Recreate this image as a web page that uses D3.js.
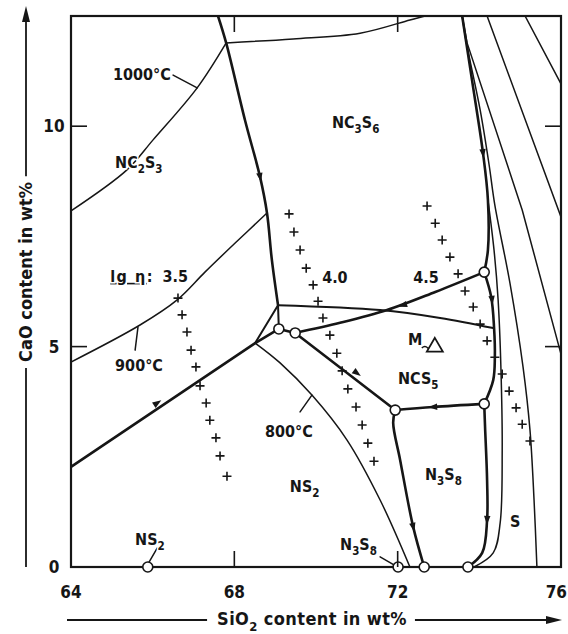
<!DOCTYPE html>
<html>
<head>
<meta charset="utf-8">
<script src="https://cdn.jsdelivr.net/npm/d3@7"></script>
<style>
  html, body { margin: 0; padding: 0; background: #fff; }
  svg { display: block; }
  text { font-family: "DejaVu Sans Condensed", "DejaVu Sans", sans-serif; font-weight: bold; fill: #161616; }
</style>
</head>
<body>
<svg id="chart" width="568" height="634"></svg>
<script>
// ---- axes: SiO2 (x) and CaO (y), wt% ----
const xDomain = [64, 76];
const yDomain = [0, 12.5];
const xTickLabels = [64, 68, 72, 76];
const yTickLabels = [0, 5, 10];
const xInnerTicks = [68, 72];
const yInnerTicks = [5, 10];

// ---- heavy lines: primary-phase field boundaries, [SiO2, CaO] ----
const bNC2S3_NC3S6 = [[67.60, 12.5], [67.80, 11.89], [68.26, 10.14], [68.63, 8.85], [68.80, 8.03], [68.92, 6.96], [69.07, 5.94]];
const bNS2_NC2S3 = [[64.0, 2.27], [68.51, 5.08], [69.09, 5.40]];
const bInvariantLink = [[69.09, 5.40], [69.49, 5.31]];
const bNC3S6_NCS5 = [[69.49, 5.31], [70.59, 5.54], [71.74, 5.83], [72.92, 6.24], [74.12, 6.69]];
const bNS2_NCS5 = [[69.49, 5.31], [71.94, 3.56]];
const bNS2_N3S8 = [[71.94, 3.56], [71.89, 3.27], [72.06, 2.43], [72.38, 0.91], [72.65, 0]];
const bNCS5_N3S8 = [[71.94, 3.56], [72.87, 3.63], [74.12, 3.70]];
const bN3S8_S = [[74.12, 3.70], [74.14, 3.18], [74.19, 1.97], [74.19, 1.07], [74.07, 0.32], [73.72, 0]];
const bNC3S6_S = [[73.58, 12.5], [73.82, 11.05], [74.09, 9.39], [74.21, 8.33], [74.21, 7.19], [74.12, 6.69]];
const bNCS5_S = [[74.12, 6.69], [74.29, 6.13], [74.36, 5.44], [74.38, 4.76], [74.34, 4.24], [74.12, 3.70]];

// ---- medium lines around the NCS5 corner ----
const mTriangleA = [[69.07, 5.94], [68.51, 5.08]];
const mTriangleB = [[69.07, 5.94], [69.09, 5.40]];
const mNC3S6_inner = [[69.07, 5.94], [71.57, 5.83], [73.04, 5.65], [74.34, 5.42]];

// ---- thin lines: isotherms and other curves ----
const tTopCurve = [[67.80, 11.89], [69.44, 11.98], [71.08, 12.11], [72.30, 12.41], [72.67, 12.5]];
const iso1000 = [[67.80, 11.89], [67.09, 10.87], [66.01, 9.69], [65.37, 9.01], [64.0, 8.08]];
const iso900 = [[68.80, 8.03], [68.02, 7.35], [67.28, 6.69], [66.60, 6.06], [65.69, 5.49], [64.0, 4.65]];
const iso800 = [[68.51, 5.08], [69.12, 4.63], [69.90, 3.90], [70.76, 2.88], [71.57, 1.52], [72.30, 0]];
const silicaA = [[73.58, 12.5], [73.67, 11.96], [74.02, 10.37], [74.24, 9.12], [74.38, 8.21], [74.75, 6.44], [75.07, 4.54], [75.24, 3.11], [75.34, 1.52], [75.41, 0]];
const silicaB = [[74.21, 8.33], [74.36, 7.19], [74.46, 6.06], [74.53, 4.47], [74.56, 2.65], [74.51, 1.00], [74.34, 0.32], [73.87, 0]];
const silicaC = [[73.58, 12.5], [73.70, 11.89], [75.05, 8.10], [76.0, 4.83]];
const silicaD = [[74.19, 12.5], [76.0, 7.94]];
const silicaE = [[75.12, 12.5], [76.0, 10.96]];

// ---- invariant points and compound compositions (open circles) ----
const invariantPoints = [[69.09, 5.40], [69.49, 5.31], [71.94, 3.56], [74.12, 6.69], [74.12, 3.70], [65.88, 0], [72.01, 0], [72.65, 0], [73.72, 0]];

// ---- iso-viscosity points, lg eta ----
const visc35 = [[66.62, 6.10], [66.72, 5.72], [66.84, 5.33], [66.94, 4.92], [67.06, 4.54], [67.16, 4.11], [67.31, 3.72], [67.40, 3.33], [67.55, 2.93], [67.65, 2.52], [67.82, 2.06]];
const visc40 = [[69.34, 8.01], [69.46, 7.60], [69.61, 7.19], [69.76, 6.78], [69.93, 6.40], [70.05, 6.03], [70.17, 5.65], [70.34, 5.26], [70.51, 4.85], [70.64, 4.45], [70.78, 4.04], [70.98, 3.63], [71.13, 3.22], [71.27, 2.81], [71.42, 2.40]];
const visc45 = [[72.72, 8.19], [72.92, 7.80], [73.09, 7.42], [73.28, 7.03], [73.48, 6.65], [73.65, 6.26], [73.85, 5.90], [74.02, 5.51], [74.19, 5.13], [74.38, 4.76], [74.56, 4.38], [74.73, 3.99], [74.90, 3.61], [75.05, 3.24], [75.24, 2.86]];

// ---- crystallisation-path arrows: [position, point ahead] ----
const pathArrows = [
  [[68.63, 8.85], [68.72, 8.40]],
  [[66.11, 3.72], [66.61, 4.03]],
  [[74.09, 9.39], [74.15, 8.90]],
  [[74.31, 6.06], [74.36, 5.60]],
  [[72.13, 5.94], [71.60, 5.78]],
  [[71.00, 4.40], [71.50, 4.05]],
  [[72.87, 3.63], [72.40, 3.60]],
  [[72.38, 0.91], [72.48, 0.50]],
  [[74.19, 1.07], [74.17, 0.60]]
];

// ---- sample M ----
const sampleM = [72.91, 4.99];

// ---- label leaders ----
const leaders = [
  [[66.50, 11.16], [67.09, 10.87]],
  [[65.64, 5.44], [65.57, 4.92]],
  [[69.90, 3.90], [69.61, 3.52]],
  [[66.11, 0.43], [65.88, 0.06]],
  [[71.57, 0.23], [71.94, 0.03]]
];

// ---- field and curve labels ("_" marks a subscript character) ----
const fieldLabels = [
  { text: "1000°C", at: [65.03, 11.05] },
  { text: "NC_2S_3", at: [65.08, 9.05] },
  { text: "NC_3S_6", at: [70.39, 9.96] },
  { text: "4.0", at: [70.15, 6.44] },
  { text: "4.5", at: [72.38, 6.44] },
  { text: "900°C", at: [65.08, 4.45] },
  { text: "800°C", at: [68.75, 2.95] },
  { text: "NCS_5", at: [72.01, 4.15] },
  { text: "N_3S_8", at: [72.67, 1.97] },
  { text: "NS_2", at: [69.36, 1.70] },
  { text: "S", at: [74.75, 0.91] },
  { text: "N_3S_8", at: [70.59, 0.39] },
  { text: "NS_2", at: [65.57, 0.50] },
  { text: "M", at: [72.25, 5.04] }
];
const viscosityLabel = { prefix: "lg η", value: ":  3.5", at: [64.96, 6.47] };

const xTitle = "SiO_2 content in wt%";
const yTitle = "CaO content in wt%";

// ================= drawing =================
const svg = d3.select("#chart");
const ink = "#161616";
const labelSize = 16;

const x = d3.scaleLinear().domain(xDomain).range([71, 561]);
const y = d3.scaleLinear().domain(yDomain).range([567, 16]);

svg.append("rect").attr("width", 568).attr("height", 634).attr("fill", "#fff");

svg.append("clipPath").attr("id", "plotClip")
  .append("rect")
  .attr("x", x(xDomain[0])).attr("y", y(yDomain[1]))
  .attr("width", x(xDomain[1]) - x(xDomain[0]))
  .attr("height", y(yDomain[0]) - y(yDomain[1]));

const plot = svg.append("g").attr("clip-path", "url(#plotClip)");

const smooth = d3.line().x(d => x(d[0])).y(d => y(d[1])).curve(d3.curveCatmullRom.alpha(0.5));
const straight = d3.line().x(d => x(d[0])).y(d => y(d[1]));

function drawCurve(pts, width, gen) {
  plot.append("path")
    .attr("d", (gen || smooth)(pts))
    .attr("fill", "none")
    .attr("stroke", ink)
    .attr("stroke-width", width)
    .attr("stroke-linejoin", "round")
    .attr("stroke-linecap", "round");
}

// thin curves first
[tTopCurve, iso1000, iso900, iso800, silicaA, silicaB].forEach(c => drawCurve(c, 1.5));
[silicaC, silicaD, silicaE].forEach(c => drawCurve(c, 1.5, straight));
// medium
[mTriangleA, mTriangleB].forEach(c => drawCurve(c, 2, straight));
drawCurve(mNC3S6_inner, 2);
// heavy
[bNC2S3_NC3S6, bNC3S6_NCS5, bNS2_N3S8, bNCS5_N3S8, bN3S8_S, bNC3S6_S, bNCS5_S].forEach(c => drawCurve(c, 2.6));
[bNS2_NC2S3, bInvariantLink, bNS2_NCS5].forEach(c => drawCurve(c, 2.6, straight));

// leaders
leaders.forEach(l => drawCurve(l, 1.5, straight));

// iso-viscosity crosses
const crossPath = "M-4.5,0H4.5M0,-4.5V4.5";
[visc35, visc40, visc45].forEach(series => {
  plot.selectAll(null).data(series).join("path")
    .attr("d", crossPath)
    .attr("transform", d => `translate(${x(d[0])},${y(d[1])})`)
    .attr("stroke", ink).attr("stroke-width", 1.6).attr("fill", "none");
});

// arrows along boundary curves
plot.selectAll(null).data(pathArrows).join("path")
  .attr("d", "M5,0L-4,-3.2L-4,3.2Z")
  .attr("fill", ink)
  .attr("transform", d => {
    const px = x(d[0][0]), py = y(d[0][1]);
    const a = Math.atan2(y(d[1][1]) - py, x(d[1][0]) - px) * 180 / Math.PI;
    return `translate(${px},${py}) rotate(${a})`;
  });

// frame
svg.append("rect")
  .attr("x", x(xDomain[0])).attr("y", y(yDomain[1]))
  .attr("width", x(xDomain[1]) - x(xDomain[0]))
  .attr("height", y(yDomain[0]) - y(yDomain[1]))
  .attr("fill", "none").attr("stroke", ink).attr("stroke-width", 2.2);

// invariant points
svg.selectAll(null).data(invariantPoints).join("circle")
  .attr("cx", d => x(d[0])).attr("cy", d => y(d[1])).attr("r", 5)
  .attr("fill", "#fff").attr("stroke", ink).attr("stroke-width", 1.6);

// inner tick marks
const tk = 16;
xInnerTicks.forEach(v => {
  svg.append("line").attr("x1", x(v)).attr("x2", x(v)).attr("y1", y(0)).attr("y2", y(0) - tk)
    .attr("stroke", ink).attr("stroke-width", 1.6);
  svg.append("line").attr("x1", x(v)).attr("x2", x(v)).attr("y1", y(yDomain[1])).attr("y2", y(yDomain[1]) + tk)
    .attr("stroke", ink).attr("stroke-width", 1.6);
});
yInnerTicks.forEach(v => {
  svg.append("line").attr("x1", x(xDomain[0])).attr("x2", x(xDomain[0]) + tk).attr("y1", y(v)).attr("y2", y(v))
    .attr("stroke", ink).attr("stroke-width", 1.6);
  svg.append("line").attr("x1", x(xDomain[1]) - tk).attr("x2", x(xDomain[1])).attr("y1", y(v)).attr("y2", y(v))
    .attr("stroke", ink).attr("stroke-width", 1.6);
});

// tick labels (the last one is kept inside the page)
svg.selectAll(null).data(xTickLabels).join("text")
  .attr("x", (d, i) => i === xTickLabels.length - 1 ? 567 : x(d))
  .attr("y", y(0) + 31)
  .attr("text-anchor", (d, i) => i === xTickLabels.length - 1 ? "end" : "middle")
  .attr("font-size", 17).text(d => d);
svg.selectAll(null).data(yTickLabels).join("text")
  .attr("x", 54).attr("y", d => y(d) + 6)
  .attr("text-anchor", "middle").attr("font-size", 17).text(d => d);

// text with subscripts
function richText(parent, str, fs) {
  const t = parent.append("text").attr("font-size", fs);
  const tokens = [];
  for (let i = 0; i < str.length; i++) {
    if (str[i] === "_") { tokens.push({ s: str[i + 1], sub: true }); i++; }
    else if (tokens.length && !tokens[tokens.length - 1].sub) tokens[tokens.length - 1].s += str[i];
    else tokens.push({ s: str[i], sub: false });
  }
  let lowered = false;
  tokens.forEach(tok => {
    const ts = t.append("tspan").text(tok.s);
    if (tok.sub) {
      ts.attr("font-size", fs * 0.72);
      if (!lowered) { ts.attr("dy", fs * 0.32); lowered = true; }
    } else if (lowered) {
      ts.attr("dy", -fs * 0.32); lowered = false;
    }
  });
  return t;
}

const labels = svg.append("g");
fieldLabels.forEach(l => {
  richText(labels, l.text, labelSize)
    .attr("x", x(l.at[0])).attr("y", y(l.at[1]))
    .attr("stroke", "#fff").attr("stroke-width", 3).attr("paint-order", "stroke");
});

// lg eta label with underlined symbol
const vt = labels.append("text").attr("font-size", labelSize)
  .attr("x", x(viscosityLabel.at[0])).attr("y", y(viscosityLabel.at[1]))
  .attr("stroke", "#fff").attr("stroke-width", 3).attr("paint-order", "stroke")
  .style("white-space", "pre");
vt.append("tspan").attr("text-decoration", "underline").attr("letter-spacing", 1.5).text(viscosityLabel.prefix);
vt.append("tspan").text(viscosityLabel.value);

// sample M marker: small swung dash and triangle
const mx = x(sampleM[0]), my = y(sampleM[1]);
svg.append("path")
  .attr("d", `M${mx - 13},${my + 1}q3,-3 6,0t6,0`)
  .attr("fill", "none").attr("stroke", ink).attr("stroke-width", 1.5);
svg.append("path")
  .attr("d", d3.symbol().type(d3.symbolTriangle).size(110)())
  .attr("transform", `translate(${mx},${my})`)
  .attr("fill", "#fff").attr("stroke", ink).attr("stroke-width", 1.8);

// x-axis title with leading rule and trailing arrow
const xt = richText(svg, xTitle, 18).attr("x", 312).attr("y", 625)
  .attr("text-anchor", "middle").attr("letter-spacing", 0.4);
const xtw = xt.node().getComputedTextLength();
const ay = 620;
svg.append("line").attr("x1", 67).attr("x2", 312 - xtw / 2 - 10).attr("y1", ay).attr("y2", ay)
  .attr("stroke", ink).attr("stroke-width", 1.8);
svg.append("line").attr("x1", 312 + xtw / 2 + 8).attr("x2", 552).attr("y1", ay).attr("y2", ay)
  .attr("stroke", ink).attr("stroke-width", 1.8);
svg.append("path").attr("d", `M562,${ay}L546,${ay - 4}L546,${ay + 4}Z`).attr("fill", ink);

// y-axis title, rotated, with leading rule and trailing arrow
const yg = svg.append("g").attr("transform", "translate(32,272) rotate(-90)");
const yt = yg.append("text").attr("text-anchor", "middle").attr("font-size", 18).text(yTitle);
const ytw = yt.node().getComputedTextLength();
yg.append("line").attr("x1", -(567 - 272)).attr("x2", -ytw / 2 - 6).attr("y1", -6).attr("y2", -6)
  .attr("stroke", ink).attr("stroke-width", 1.8);
yg.append("line").attr("x1", ytw / 2 + 6).attr("x2", 272 - 20).attr("y1", -6).attr("y2", -6)
  .attr("stroke", ink).attr("stroke-width", 1.8);
yg.append("path").attr("d", `M${272 - 6},-6L${272 - 22},-10L${272 - 22},-2Z`).attr("fill", ink);
</script>
</body>
</html>
